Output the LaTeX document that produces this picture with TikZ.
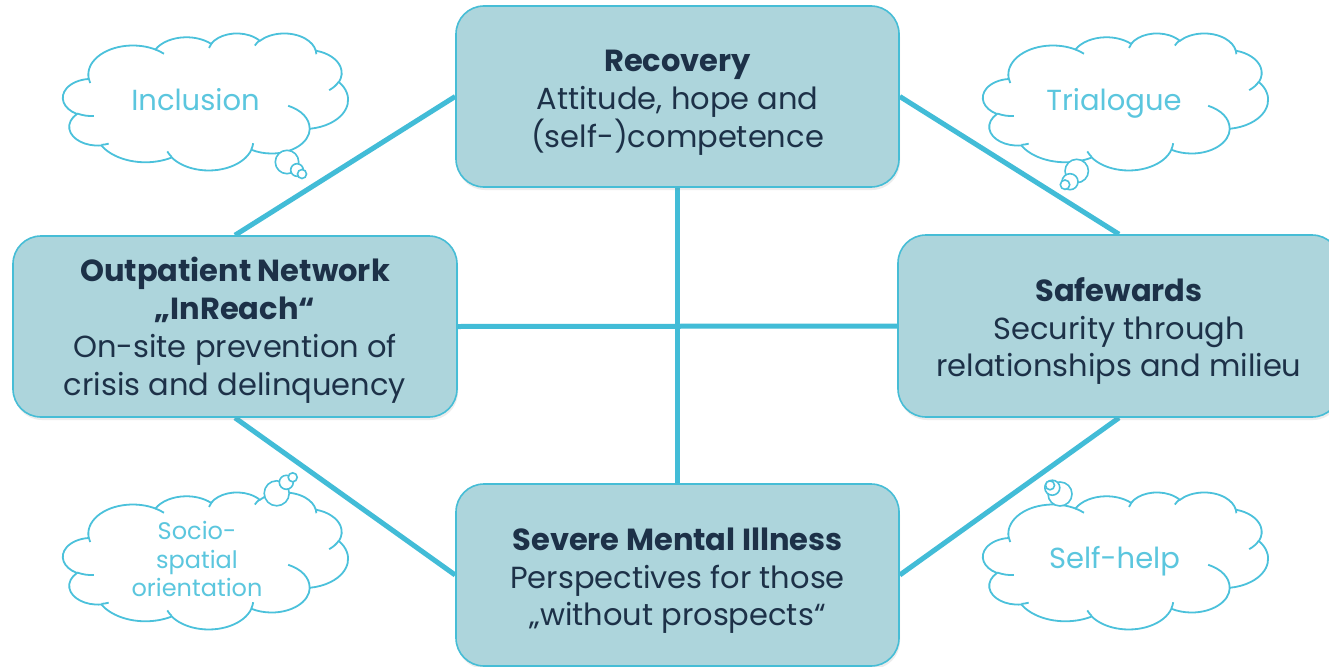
\documentclass[tikz,border=0pt]{standalone}
\usepackage{fontspec}
\setmainfont{Poppins}
\usetikzlibrary{shadows,backgrounds}
\definecolor{cBoxFill}{HTML}{ADD5DC}
\definecolor{cBoxLine}{HTML}{46BDD6}
\definecolor{cLine}{HTML}{42BCD7}
\definecolor{cText}{HTML}{1D3148}
\definecolor{cCloud}{HTML}{4BC1DB}
\definecolor{cCloudText}{HTML}{5BC6DE}
\pgfmathdeclarefunction{ooang}{3}{%
  \begingroup
  \pgfmathparse{#1+Mod(atan2(#2*sin(#1),#3*cos(#1))-(#1)+180,360)-180}%
  \pgfmathsmuggle\pgfmathresult
  \endgroup}
\newcommand\oarc[4]{arc[x radius=#1,y radius=#2,start angle={ooang(#3,#1,#2)},end angle={ooang(#3+#4,#1,#2)}]}
\newcommand\cloudpath{(39.00,143.70)
 \oarc{67.53}{91.90}{-190.48748}{123.78053}
 \oarc{53.33}{72.67}{-144.10238}{89.94523}
 \oarc{43.65}{59.45}{-145.80792}{99.72302}
 \oarc{48.57}{65.95}{-130.98607}{117.24173}
 \oarc{53.33}{72.73}{-78.70888}{109.02692}
 \oarc{67.75}{92.20}{-46.26725}{130.269}
 \oarc{57.85}{78.67}{0.62502}{114.03333}
 \oarc{67.52}{92.15}{22.4516}{115.17255}
 \oarc{77.20}{105.43}{66.24263}{75.71102}
 \oarc{43.60}{59.18}{-274.94208}{146.73557}
 \oarc{43.45}{59.45}{-246.8285}{152.51885}
 -- cycle}
\newcommand\cloudinner{
 (46.93,261.77) \oarc{43.45}{59.45}{86.742}{26.4295}
 (69.28,348.99) \oarc{43.60}{59.18}{73.61047}{11.44747}
 (164.78,390.90) \oarc{67.52}{92.15}{137.62415}{14.0811}
 (288.27,347.51) \oarc{67.52}{92.15}{6.45327}{15.99835}
 (341.29,229.54) \oarc{57.85}{78.67}{-70.29235}{70.91737}
 (417.98,153.54) \oarc{53.33}{72.73}{30.31803}{27.7515}
 (383.24,54.26) \oarc{48.57}{65.95}{-13.74433}{14.8589}
 (290.78,39.52) \oarc{48.57}{65.95}{-149.18145}{18.19537}
 (221.41,47.20) \oarc{43.65}{59.45}{-163.49427}{17.68635}
 (140.00,51.92) \oarc{67.53}{91.90}{-66.70695}{12.31935}
 (41.27,157.89) \oarc{67.53}{91.90}{157.65435}{11.85817}}
\newcommand\firstline{\rule{0pt}{34pt}}
\begin{document}
\begin{tikzpicture}[x=1pt,y=-1pt,
  stagebox/.style={draw=cBoxLine, line width=1.6pt, fill=cBoxFill, rounded corners=28pt,
    minimum width=443pt, minimum height=181pt, align=center, text=cText,
    font=\fontsize{30.5}{37.7}\selectfont,
    drop shadow={opacity=0.15, shadow xshift=1pt, shadow yshift=-3pt}},
  link/.style={draw=cLine, line width=5pt},
  cloudline/.style={draw=cCloud, line width=1.8pt},
  bubble/.style={draw=cCloud, line width=1.6pt, fill=white},
  cloudtext/.style={text=cCloudText, font=\fontsize{29}{34}\selectfont, align=center, anchor=base, inner sep=0pt}]
\path[use as bounding box] (0,0) rectangle (1329,666);
\clip (0,0) rectangle (1329,666);

\node[stagebox] (rec) at (677.5,96.5) {\firstline\textbf{Recovery}\\Attitude, hope and\\(self-)competence};
\node[stagebox, minimum width=444pt] (out) at (235,326.5) {\rule{0pt}{32pt}\textbf{Outpatient Network}\\\textbf{„InReach“}\\On-site prevention of\\crisis and delinquency};
\node[stagebox, minimum width=442pt, minimum height=182pt] (safe) at (1119,326) {\firstline\textbf{Safewards}\\Security through\\relationships and milieu};
\node[stagebox, minimum height=182pt] (sev) at (677.5,575) {\firstline\textbf{Severe Mental Illness}\\Perspectives for those\\„without prospects“};

\begin{scope}[on background layer]
  \fill[white] (0,0) rectangle (1329,666);
  \draw[link] (rec.west) -- (out.north);
  \draw[link] (rec.east) -- (safe.north);
  \draw[link] (out.south) -- (sev.west);
  \draw[link] (safe.south) -- (sev.east);
  \draw[link] (rec.south) -- (sev.north);
  \draw[link] (out.east) -- (safe.west);
\end{scope}

% clouds
\foreach \cx/\cy in {63/33, 983/33, 63/492, 983/492}{
  \begin{scope}[shift={(\cx pt,-\cy pt)}, x=0.6597pt, y=-0.3171pt]
    \filldraw[cloudline, fill=white] \cloudpath;
    \draw[cloudline] \cloudinner;
  \end{scope}
}
% thought bubbles
\draw[bubble] (287,162) circle[radius=11.7];
\draw[bubble] (297,170) circle[radius=6.3];
\draw[bubble] (302,174) circle[radius=4.5];
\draw[bubble] (1076.7,171) circle[radius=11.7];
\draw[bubble] (1070,181.7) circle[radius=8];
\draw[bubble] (1065,184.7) circle[radius=4.7];
\draw[bubble] (276.7,493.3) circle[radius=12.5];
\draw[bubble] (286.3,482.3) circle[radius=7];
\draw[bubble] (292.7,477.3) circle[radius=4.5];
\draw[bubble] (1060,494) circle[radius=12];
\draw[bubble] (1052.3,487.7) circle[radius=7.5];
\draw[bubble] (1050,485.3) circle[radius=4.5];

\node[cloudtext] (incl) at (195.5,110.7) {Inclusion};
\node[cloudtext] (tria) at (1114,110.7) {Trialogue};
\node[cloudtext, anchor=center, font=\fontsize{24}{28.5}\selectfont] (socio) at (197,559) {Socio-\\spatial\\orientation};
\node[cloudtext] (selfh) at (1114.5,568.3) {Self-help};
\end{tikzpicture}
\end{document}
